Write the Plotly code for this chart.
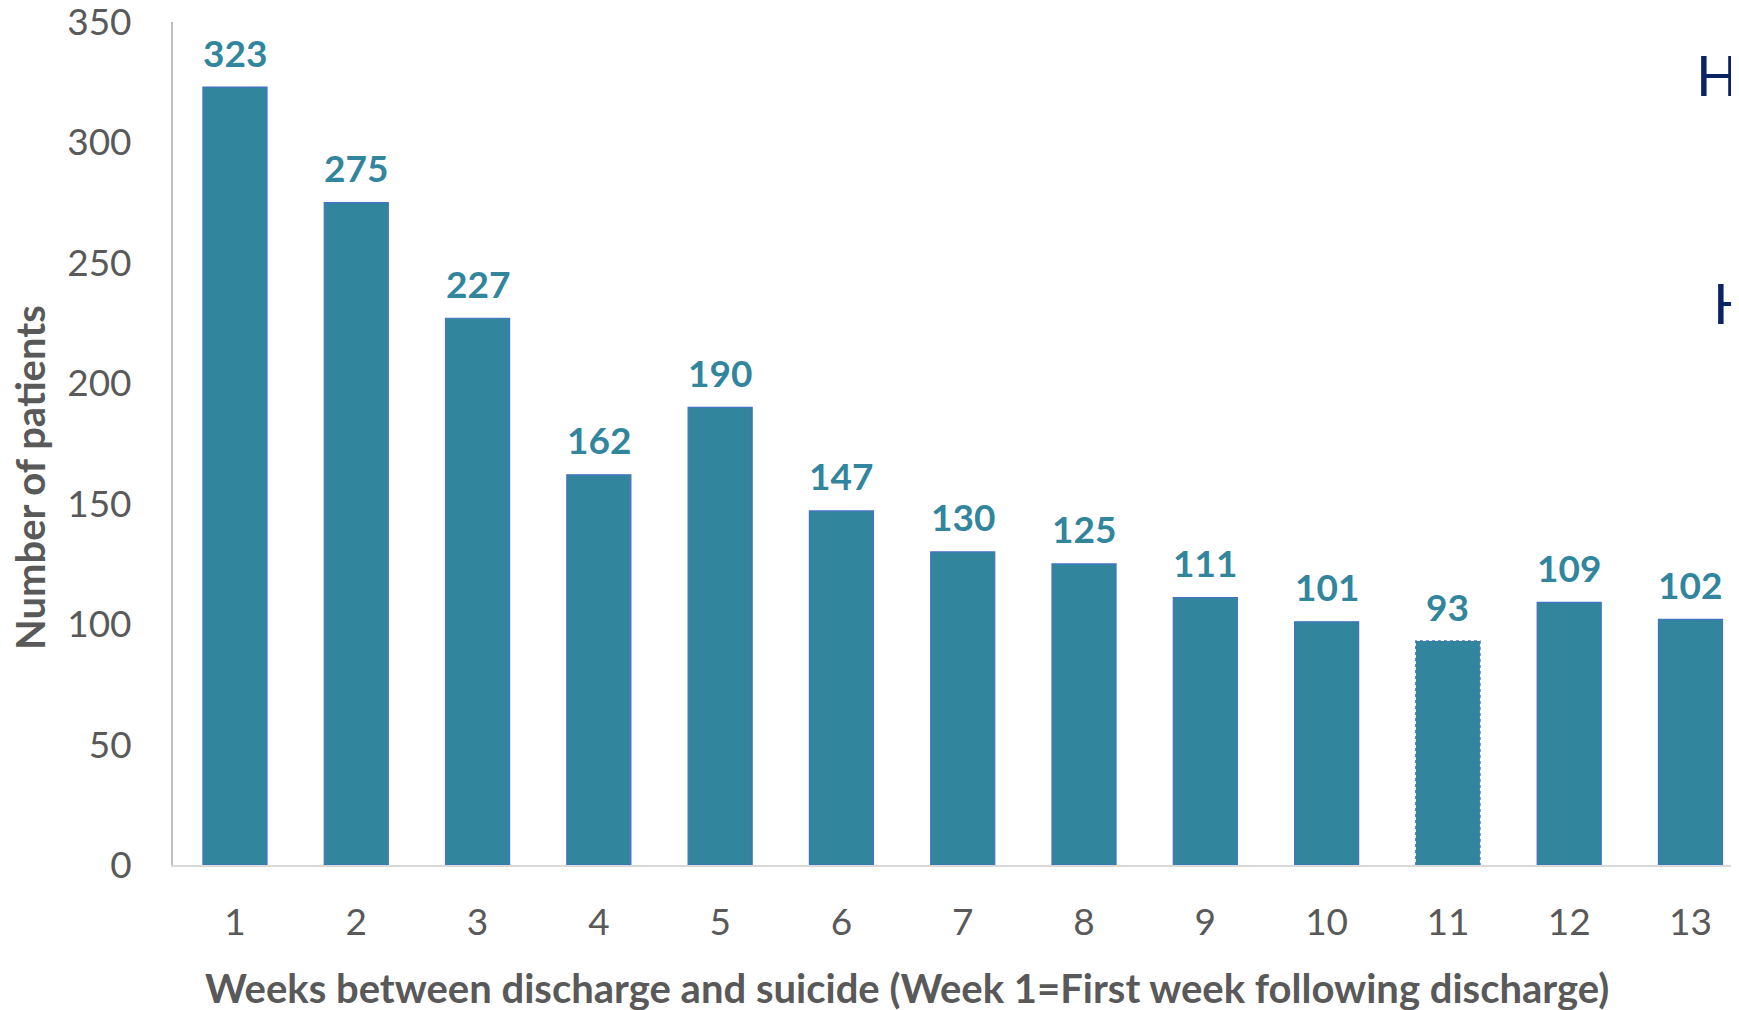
import plotly.graph_objects as go

weeks = list(range(1, 14))
patients = [323, 275, 227, 162, 190, 147, 130, 125, 111, 101, 93, 109, 102]
y_ticks = [0, 50, 100, 150, 200, 250, 300, 350]
dotted_week = 11

BAR_COLOR = "#31859C"
OUTLINE = "#4472C4"
GREY = "#595959"
NAVY = "#0B2265"
BAR_W = 0.528

# page is rendered with an 8px body margin; compensate
OFF = 8
W, H = 1739 - OFF, 1010 - OFF
L, R, T, B = 173 - OFF, 0, 22 - OFF, 145
pw, ph = W - L - R, H - T - B

def px_x(p):
    return (p - OFF - L) / pw

def px_y(p):
    return (H - B - (p - OFF)) / ph

fig = go.Figure()
line_widths = [0 if w == dotted_week else 1.2 for w in weeks]
fig.add_trace(go.Bar(
    x=weeks, y=patients, width=BAR_W,
    marker=dict(color=BAR_COLOR, line=dict(color=OUTLINE, width=line_widths)),
    hoverinfo="x+y",
))

# dotted outline for the highlighted bar, derived from data
i = weeks.index(dotted_week)
xv, yv = weeks[i], patients[i]
fig.add_trace(go.Scatter(
    x=[xv - BAR_W / 2, xv - BAR_W / 2, xv + BAR_W / 2, xv + BAR_W / 2],
    y=[0, yv, yv, 0], mode="lines",
    line=dict(color=OUTLINE, width=1.5, dash="dot"), hoverinfo="skip",
))

annotations = []
for w, v in zip(weeks, patients):
    annotations.append(dict(
        x=w, y=v, xref="x", yref="y", text=str(v), showarrow=False,
        yanchor="middle", yshift=35,
        font=dict(family="Lato", size=37, color=BAR_COLOR, weight="bold"),
    ))

annotations += [
    dict(x=px_x(907), y=px_y(988), xref="paper", yref="paper",
         text="Weeks between discharge and suicide (Week 1=First week following discharge)",
         showarrow=False, xanchor="center", yanchor="middle",
         font=dict(family="Lato", size=40, color=GREY, weight="bold")),
    dict(x=px_x(30), y=px_y(478), xref="paper", yref="paper",
         text="Number of patients", textangle=-90,
         showarrow=False, xanchor="center", yanchor="middle",
         font=dict(family="Lato", size=40, color=GREY, weight="bold")),
    dict(x=px_x(1694), y=px_y(74), xref="paper", yref="paper", text="HI",
         showarrow=False, xanchor="left", yanchor="middle",
         font=dict(family="Lato", size=56, color=NAVY)),
    dict(x=px_x(1711), y=px_y(302), xref="paper", yref="paper", text="H",
         showarrow=False, xanchor="left", yanchor="middle",
         font=dict(family="Lato", size=56, color=NAVY)),
]

fig.update_layout(
    width=W, height=H,
    margin=dict(l=L, r=R, t=T, b=B, pad=0, autoexpand=False),
    paper_bgcolor="white", plot_bgcolor="white",
    showlegend=False,
    annotations=annotations,
    xaxis=dict(
        range=[0.489, 13.40], tickmode="array", tickvals=weeks,
        ticktext=[str(w) for w in weeks], showgrid=False, zeroline=False,
        showline=True, linecolor="#D9D9D9", linewidth=2, ticks="",
        ticklabelstandoff=24, ticklabeloverflow="allow", automargin=False,
        tickfont=dict(family="Lato", size=37, color=GREY),
    ),
    yaxis=dict(
        range=[0, 350], tickmode="array", tickvals=y_ticks,
        showgrid=False, zeroline=False,
        showline=True, linecolor="#BFBFBF", linewidth=2, ticks="",
        ticklabelstandoff=32, ticklabeloverflow="allow", automargin=False,
        tickfont=dict(family="Lato", size=37, color=GREY),
    ),
)

fig.write_html("out.html")
